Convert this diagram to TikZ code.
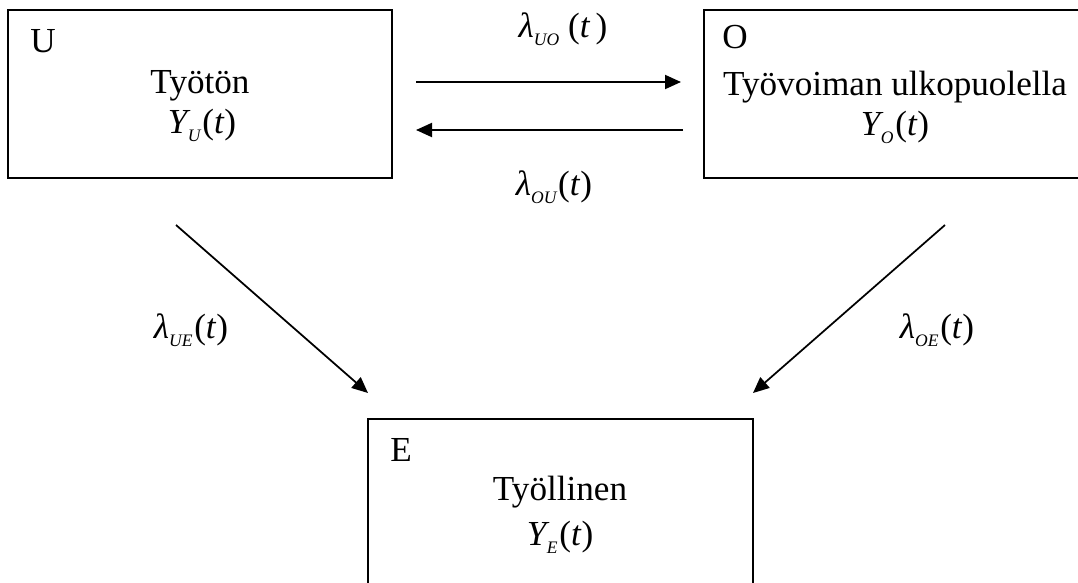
\documentclass[tikz,border=0pt]{standalone}
\usepackage{fontspec}
\setmainfont{Liberation Serif}
\usetikzlibrary{arrows.meta}

\newcommand{\sub}[1]{\raisebox{-0.55ex}{\fontsize{10}{10}\selectfont\itshape #1}}
\newcommand{\rate}[1]{\textit{λ}\sub{#1}\kern1pt(\textit{t})}
\newcommand{\stock}[1]{\textit{Y}\kern-1.5pt\sub{#1}\kern1pt(\textit{t})}

\begin{document}
\begin{tikzpicture}[
    x=0.02cm, y=-0.02cm,
    font=\fontsize{20}{24}\selectfont,
    state/.style={draw, line width=1.1pt, minimum width=7.68cm, minimum height=3.36cm},
    txt/.style={inner sep=0pt, anchor=base},
    flow/.style={line width=1.1pt, -{Triangle[length=0.32cm, width=0.28cm]}}
]

    \useasboundingbox (0,0) rectangle (1078,582);

    % States
    \node[state] (unemp) at (200,94) {};
    \node[state, minimum width=7.64cm] (outside) at (895,94) {};
    \node[state, minimum width=7.7cm] (emp) at (560.5,503) {};

    % State texts
    \node[txt, anchor=base west] (unemp_tag) at (30,52) {U};
    \node[txt] (unemp_name) at (200,93) {Työtön};
    \node[txt] (unemp_y) at (202,133) {\stock{U}};

    \node[txt, anchor=base west] (outside_tag) at (722,48) {O};
    \node[txt] (outside_name) at (895,95) {Työvoiman ulkopuolella};
    \node[txt] (outside_y) at (895,135) {\stock{O}};

    \node[txt, anchor=base west] (emp_tag) at (390,461) {E};
    \node[txt] (emp_name) at (560,500) {Työllinen};
    \node[txt] (emp_y) at (560,545) {\stock{E}};

    % Coordinates
    \coordinate (uo_a) at (416,82);
    \coordinate (uo_b) at (681,82);
    \coordinate (ou_a) at (683,130);
    \coordinate (ou_b) at (416,130);
    \coordinate (ue_a) at (176,225);
    \coordinate (ue_b) at (368,393);
    \coordinate (oe_a) at (945,225);
    \coordinate (oe_b) at (753,393);

    % Flows
    \draw[flow] (uo_a) -- (uo_b);
    \draw[flow] (ou_a) -- (ou_b);
    \draw[flow, line width=1pt] (ue_a) -- (ue_b);
    \draw[flow, line width=1pt] (oe_a) -- (oe_b);

    % Rates
    \node[txt] (rate_uo) at (563,37) {\textit{λ}\sub{UO}\kern5pt(\textit{t}\kern3pt)};
    \node[txt] (rate_ou) at (554,195) {\rate{OU}};
    \node[txt] (rate_ue) at (191,338) {\rate{UE}};
    \node[txt] (rate_oe) at (937,338) {\rate{OE}};

\end{tikzpicture}
\end{document}
